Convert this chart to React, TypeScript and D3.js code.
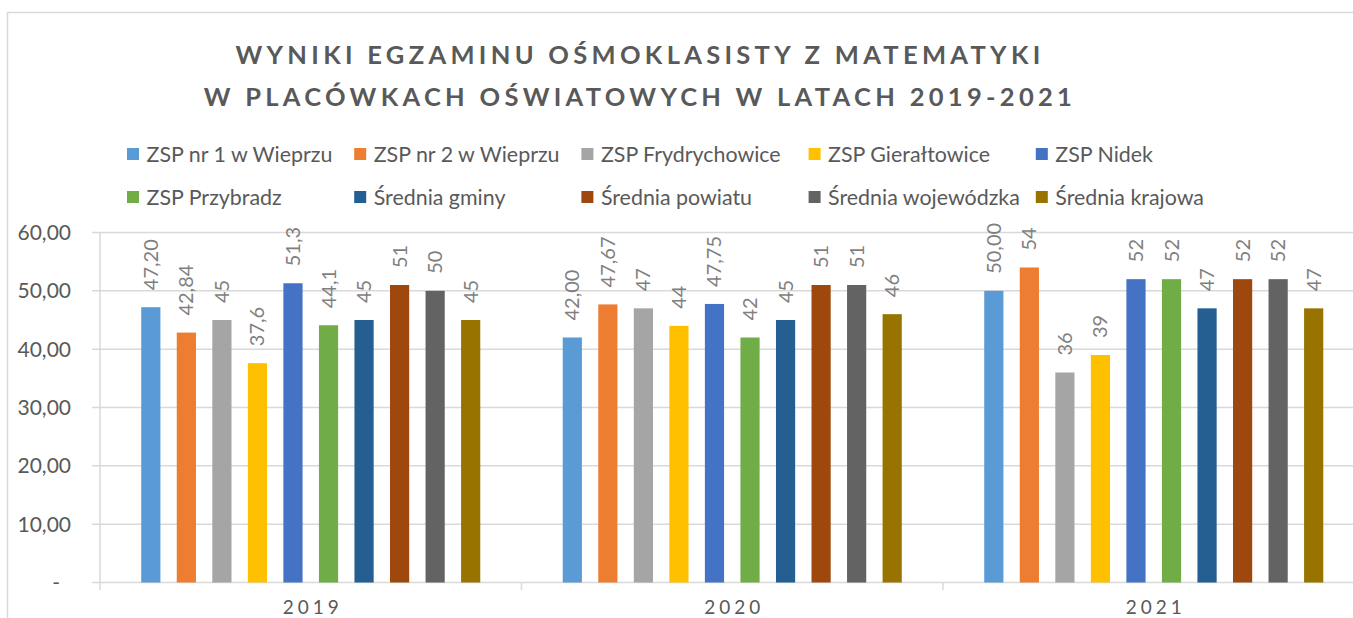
import React, { useEffect, useRef } from 'react';
import * as d3 from 'd3';

const years = ['2019', '2020', '2021'];

const seriesNames = [
  'ZSP nr 1 w Wieprzu',
  'ZSP nr 2 w Wieprzu',
  'ZSP Frydrychowice',
  'ZSP Gierałtowice',
  'ZSP Nidek',
  'ZSP Przybradz',
  'Średnia gminy',
  'Średnia powiatu',
  'Średnia wojewódzka',
  'Średnia krajowa',
];

const colors = [
  '#5B9BD5',
  '#ED7D31',
  '#A5A5A5',
  '#FFC000',
  '#4472C4',
  '#70AD47',
  '#255E91',
  '#9E480E',
  '#636363',
  '#997300',
];

// wyniki per rok: 2019, 2020, 2021
const zsp1Wieprz = [47.2, 42.0, 50.0];
const zsp2Wieprz = [42.84, 47.67, 54];
const zspFrydrychowice = [45, 47, 36];
const zspGieraltowice = [37.6, 44, 39];
const zspNidek = [51.3, 47.75, 52];
const zspPrzybradz = [44.1, 42, 52];
const sredniaGminy = [45, 45, 47];
const sredniaPowiatu = [51, 51, 52];
const sredniaWojewodzka = [50, 51, 52];
const sredniaKrajowa = [45, 46, 47];

const values = [
  zsp1Wieprz,
  zsp2Wieprz,
  zspFrydrychowice,
  zspGieraltowice,
  zspNidek,
  zspPrzybradz,
  sredniaGminy,
  sredniaPowiatu,
  sredniaWojewodzka,
  sredniaKrajowa,
];

// etykiety tak jak w arkuszu (rozne formaty)
const labels = [
  ['47,20', '42,00', '50,00'],
  ['42,84', '47,67', '54'],
  ['45', '47', '36'],
  ['37,6', '44', '39'],
  ['51,3', '47,75', '52'],
  ['44,1', '42', '52'],
  ['45', '45', '47'],
  ['51', '51', '52'],
  ['50', '51', '52'],
  ['45', '46', '47'],
];

const yTicks = [0, 10, 20, 30, 40, 50, 60];

const W = 1353;
const H = 618;
const FONT = 'Lato, "Open Sans", sans-serif';
const TEXT = '#595959';
const GRID = '#d9d9d9';

const App = () => {
  const ref = useRef(null);

  useEffect(() => {
    const svg = d3.select(ref.current);
    svg.selectAll('*').remove();

    svg
      .append('rect')
      .attr('x', 7.5)
      .attr('y', 12.5)
      .attr('width', W + 20)
      .attr('height', H + 20)
      .attr('fill', '#fff')
      .attr('stroke', GRID)
      .attr('stroke-width', 1.5);

    // tytul
    const title = svg
      .append('text')
      .attr('font-family', FONT)
      .attr('font-weight', 700)
      .attr('font-size', 25.5)
      .attr('letter-spacing', 4.3)
      .attr('fill', TEXT)
      .attr('text-anchor', 'middle');
    title
      .append('tspan')
      .attr('x', 640)
      .attr('y', 64)
      .text('WYNIKI EGZAMINU OŚMOKLASISTY Z MATEMATYKI');
    title
      .append('tspan')
      .attr('x', 640)
      .attr('y', 106)
      .text('W PLACÓWKACH OŚWIATOWYCH W LATACH 2019-2021');

    // legenda
    const legCol = d3.scaleBand().domain(d3.range(5)).range([127, 1263]);
    const legRow = d3.scalePoint().domain([0, 1]).range([154, 197]);
    const leg = svg
      .append('g')
      .selectAll('g')
      .data(seriesNames)
      .join('g')
      .attr(
        'transform',
        (d, i) => `translate(${legCol(i % 5)},${legRow(Math.floor(i / 5))})`
      );
    leg
      .append('rect')
      .attr('y', -6)
      .attr('width', 12)
      .attr('height', 12)
      .attr('fill', (d, i) => colors[i]);
    leg
      .append('text')
      .attr('x', 19.5)
      .attr('dy', '0.35em')
      .attr('font-family', FONT)
      .attr('font-size', 21.4)
      .attr('fill', TEXT)
      .text(d => d);

    // skale
    const x0 = d3.scaleBand().domain(years).range([100, 1364.5]);
    const x1 = d3
      .scaleBand()
      .domain(d3.range(seriesNames.length))
      .range([0, x0.bandwidth()])
      .paddingInner(0.46)
      .paddingOuter(1.16);
    const y = d3.scaleLinear().domain([0, 60]).range([582.5, 232.5]);

    // siatka
    svg
      .append('g')
      .selectAll('line')
      .data(yTicks)
      .join('line')
      .attr('x1', 92)
      .attr('x2', W)
      .attr('y1', d => y(d))
      .attr('y2', d => y(d))
      .attr('stroke', GRID)
      .attr('stroke-width', 1.5);

    svg
      .append('line')
      .attr('x1', 100)
      .attr('x2', 100)
      .attr('y1', y(60))
      .attr('y2', 590)
      .attr('stroke', GRID)
      .attr('stroke-width', 1.5);

    svg
      .append('g')
      .selectAll('line')
      .data(years.slice(1))
      .join('line')
      .attr('x1', d => x0(d))
      .attr('x2', d => x0(d))
      .attr('y1', y(0))
      .attr('y2', 590)
      .attr('stroke', GRID)
      .attr('stroke-width', 1.5);

    // os Y
    svg
      .append('g')
      .selectAll('text')
      .data(yTicks)
      .join('text')
      .attr('x', d => (d === 0 ? 60 : 71))
      .attr('y', d => y(d))
      .attr('dy', '0.35em')
      .attr('text-anchor', 'end')
      .attr('font-family', FONT)
      .attr('font-size', 21)
      .attr('fill', TEXT)
      .text(d => (d === 0 ? '-' : d3.format('.2f')(d).replace('.', ',')));

    // os X
    svg
      .append('g')
      .selectAll('text')
      .data(years)
      .join('text')
      .attr('x', d => x0(d) + x0.bandwidth() / 2 + 2)
      .attr('y', 614)
      .attr('text-anchor', 'middle')
      .attr('letter-spacing', 4)
      .attr('font-family', FONT)
      .attr('font-size', 19)
      .attr('fill', TEXT)
      .text(d => d);

    // slupki
    const cells = [];
    years.forEach((yr, j) => {
      values.forEach((arr, i) => {
        cells.push({ yr, i, v: arr[j], label: labels[i][j] });
      });
    });

    const bars = svg.append('g').selectAll('g').data(cells).join('g');
    bars
      .append('rect')
      .attr('x', d => x0(d.yr) + x1(d.i))
      .attr('y', d => y(d.v))
      .attr('width', x1.bandwidth())
      .attr('height', d => y(0) - y(d.v))
      .attr('fill', d => colors[d.i]);

    bars
      .append('text')
      .attr(
        'transform',
        d =>
          `translate(${x0(d.yr) + x1(d.i) + x1.bandwidth() / 2},${
            y(d.v) - 17
          }) rotate(-90)`
      )
      .attr('dy', '0.35em')
      .attr('font-family', FONT)
      .attr('font-size', 20)
      .attr('fill', '#7f7f7f')
      .text(d => d.label);
  }, []);

  return (
    <svg
      ref={ref}
      width={W}
      height={H}
      style={{ position: 'absolute', left: 0, top: 0, background: '#fff' }}
    />
  );
};

export default App;
